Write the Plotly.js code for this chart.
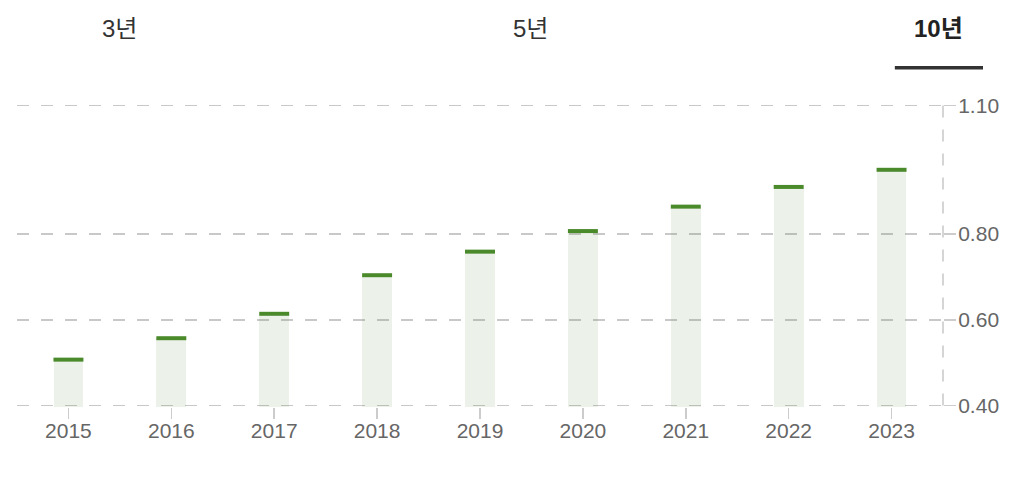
<!DOCTYPE html>
<html>
<head>
<meta charset="utf-8">
<script src="https://cdn.plot.ly/plotly-3.0.1.min.js"></script>
<style>
  html, body { margin: 0; padding: 0; background: #fff; }
  #chart { width: 1034px; height: 482px; }
</style>
</head>
<body>
<div id="chart"></div>
<script>
const years = ['2015', '2016', '2017', '2018', '2019', '2020', '2021', '2022', '2023'];
const values = [0.507, 0.557, 0.614, 0.704, 0.759, 0.807, 0.864, 0.91, 0.95];

const yTickVals = [0.4, 0.6, 0.8, 1.1];
const yTickText = ['0.40', '0.60', '0.80', '1.10'];

const tabs = ['3년', '5년', '10년'];

const fontFamily = '"Liberation Sans", Arial, "Noto Sans CJK KR", sans-serif';

const config = {
  displayModeBar: false,
  staticPlot: true,
};

/* light bar from the bottom up to the value */
const barTrace = {
  type: 'bar',
  x: years,
  y: values,
  width: 0.29,
  marker: { color: 'rgba(80,130,60,0.11)', line: { width: 0 } },
  hoverinfo: 'skip',
};

/* dark green cap on top of each bar */
const capTrace = {
  type: 'scatter',
  mode: 'markers',
  x: years,
  y: values,
  marker: {
    symbol: 'line-ew',
    size: 21.4,
    line: { width: 4, color: '#4a8a2b' },
  },
  hoverinfo: 'skip',
};

const tabX = [0.1112, 0.554, 0.9951];

const annotations = tabs.map((t, i) => ({
  text: t,
  xref: 'paper',
  yref: 'paper',
  x: tabX[i],
  y: 1.25,
  xanchor: 'center',
  yanchor: 'middle',
  showarrow: false,
  font: {
    family: fontFamily,
    size: 24,
    color: i === tabs.length - 1 ? '#222' : '#333',
    weight: i === tabs.length - 1 ? 'bold' : 'normal',
  },
}));

const layout = {
  width: 1034,
  height: 482,
  margin: { l: 17, r: 91, t: 104, b: 75 },
  paper_bgcolor: '#fff',
  plot_bgcolor: 'rgba(0,0,0,0)',
  showlegend: false,
  bargap: 0,
  font: { family: fontFamily, size: 21, color: '#666' },
  xaxis: {
    type: 'category',
    range: [-0.5, 8.5],
    showgrid: false,
    zeroline: false,
    showline: false,
    ticks: 'outside',
    ticklen: 11,
    tickwidth: 1.5,
    tickcolor: '#ccc',
    ticklabelstandoff: -6,
    tickfont: { size: 21, color: '#666' },
  },
  yaxis: {
    side: 'right',
    // a little padding so the 0.40 and 1.10 grid lines are kept
    range: [0.3965, 1.1035],
    tickvals: yTickVals,
    ticktext: yTickText,
    showgrid: true,
    gridcolor: '#c8c8c8',
    gridwidth: 1.5,
    griddash: '12px,12px',
    zeroline: false,
    showline: false,
    ticks: 'outside',
    ticklen: 12,
    tickwidth: 1.5,
    tickcolor: '#ccc',
    ticklabelstandoff: -2,
    tickfont: { size: 21, color: '#666' },
  },
  shapes: [
    // dashed right axis line
    {
      type: 'line', xref: 'paper', yref: 'y',
      x0: 1, x1: 1, y0: 1.1, y1: 0.4,
      line: { color: '#c8c8c8', width: 1.5, dash: '12px,12px' },
    },
    // underline of the selected tab
    {
      type: 'line', xref: 'paper', yref: 'paper',
      x0: 0.948, x1: 1.0432, y0: 1.12, y1: 1.12,
      line: { color: '#333', width: 3.5 },
    },
  ],
  annotations: annotations,
};

Plotly.newPlot('chart', [barTrace, capTrace], layout, config);
</script>
</body>
</html>
